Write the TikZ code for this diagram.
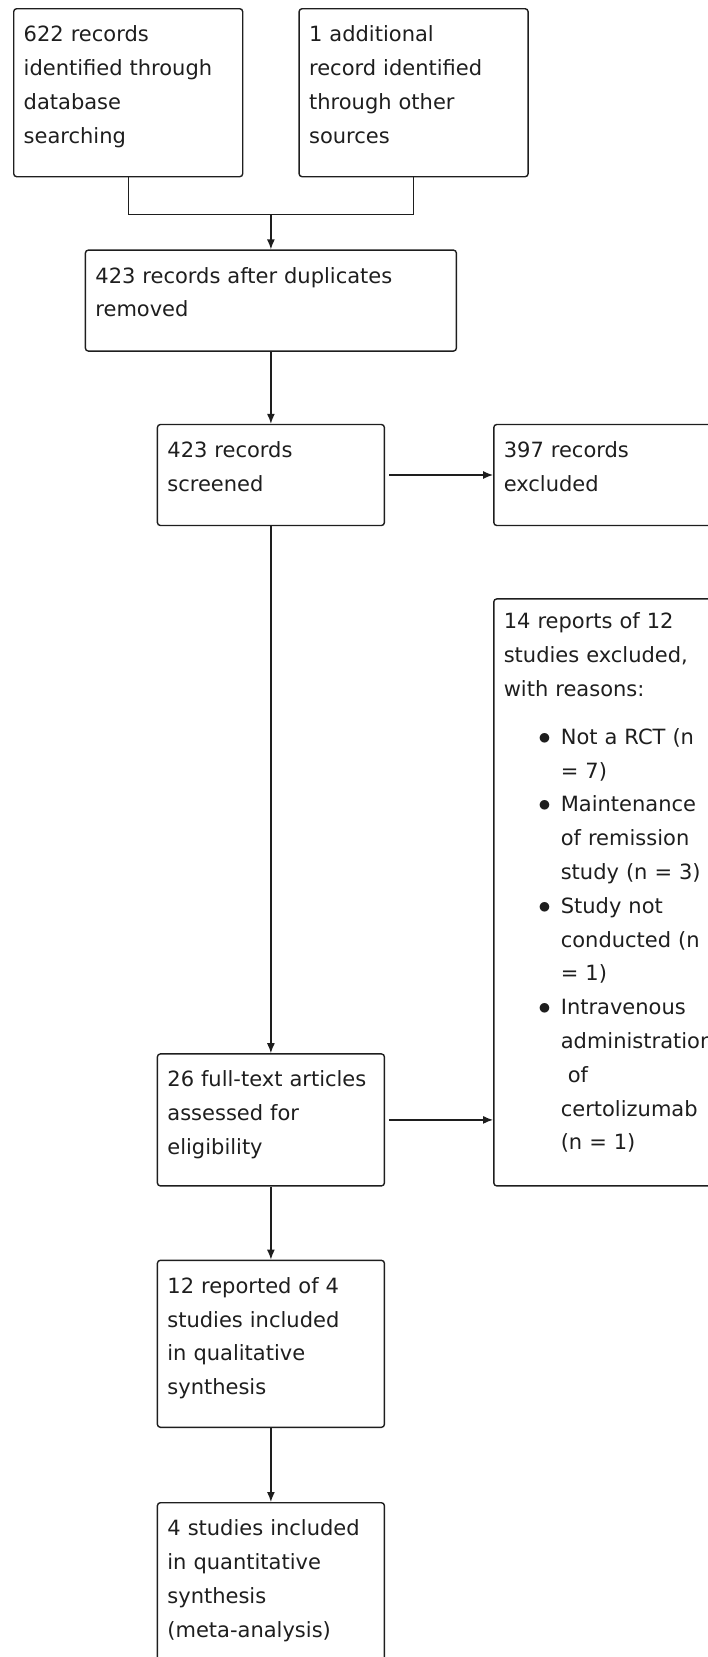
\documentclass[tikz,border=0pt]{standalone}
\usepackage{fontspec}
\setmainfont{DejaVu Sans}
\usetikzlibrary{positioning,calc,arrows.meta}
\definecolor{line_gray}{RGB}{30,30,30}
\definecolor{text_gray}{RGB}{30,30,30}
\newcommand{\reasonitem}{\hspace*{57pt}\llap{{\fontsize{29}{29}\selectfont$\bullet$}\hspace{10pt}}}
\newcommand{\reasoncont}{\hspace*{57pt}}
\hyphenpenalty=10000

\begin{document}
\begin{tikzpicture}[x=1pt, y=1pt, node distance=72pt,
    flowbox/.style={draw=line_gray, line width=1.4pt, rounded corners=3pt, align=left,
        inner xsep=10pt, inner ysep=0pt, text height=33pt, text=text_gray,
        font=\fontsize{21}{33.8}\selectfont},
    arr/.style={draw=line_gray, line width=1.4pt, -{Latex[length=10pt,width=8pt]}}]
            \useasboundingbox (0,0) rectangle (708,-1657);
            % Nodes
            \node[flowbox, anchor=north west, text width=209pt, text depth=135pt] (ident) at (13,-8) {
                622 records\\
                identified through\\
                database\\
                searching
            };
            \node[flowbox, right=55pt of ident, text width=209pt, text depth=135pt] (other) {
                1 additional\\
                record identified\\
                through other\\
                sources
            };
            \coordinate (join) at ($(ident.south)!0.5!(other.south)+(0,-37)$);
            \node[flowbox, below=35pt of join, text width=351pt, text depth=68pt] (dedup) {
                423 records after duplicates\\
                removed
            };
            \node[flowbox, below=of dedup, text width=207pt, text depth=68pt] (screen) {
                423 records\\
                screened
            };
            \node[flowbox, right=108pt of screen, text width=209pt, text depth=68pt] (excl) {
                397 records\\
                excluded
            };
            \node[flowbox, below=of excl, text width=209pt, text height=30pt, text depth=557pt] (reasons) {
                14 reports of 12\\
                studies excluded,\\
                with reasons:\\[14pt]
                \reasonitem Not a RCT (n\\
                \reasoncont = 7)\\
                \reasonitem Maintenance\\
                \reasoncont of remission\\
                \reasoncont study (n = 3)\\
                \reasonitem Study not\\
                \reasoncont conducted (n\\
                \reasoncont = 1)\\
                \reasonitem Intravenous\\
                \reasoncont administration\\
                \reasoncont\ of\\
                \reasoncont certolizumab\\
                \reasoncont (n = 1)
            };
            \node[flowbox, below=527pt of screen, text width=207pt, text depth=99pt] (fulltext) {
                26 full-text articles\\
                assessed for\\
                eligibility
            };
            \node[flowbox, below=73pt of fulltext, text width=207pt, text depth=134pt] (qual) {
                12 reported of 4\\
                studies included\\
                in qualitative\\
                synthesis
            };
            \node[flowbox, below=74pt of qual, text width=207pt, text depth=134pt] (quant) {
                4 studies included\\
                in quantitative\\
                synthesis\\
                (meta-analysis)
            };

            % Arrows
            \draw[draw=line_gray, line width=1.4pt] (ident.south) |- (join) -| (other.south);
            \draw[arr] (join) -- (dedup);
            \draw[arr] (dedup) -- (screen);
            \draw[arr, shorten <=4pt] (screen) -- (excl);
            \draw[arr] (screen) -- (fulltext);
            \draw[arr, shorten <=4pt] (fulltext.east) -- (fulltext.east -| reasons.west);
            \draw[arr] (fulltext) -- (qual);
            \draw[arr] (qual) -- (quant);
        \end{tikzpicture}
\end{document}
